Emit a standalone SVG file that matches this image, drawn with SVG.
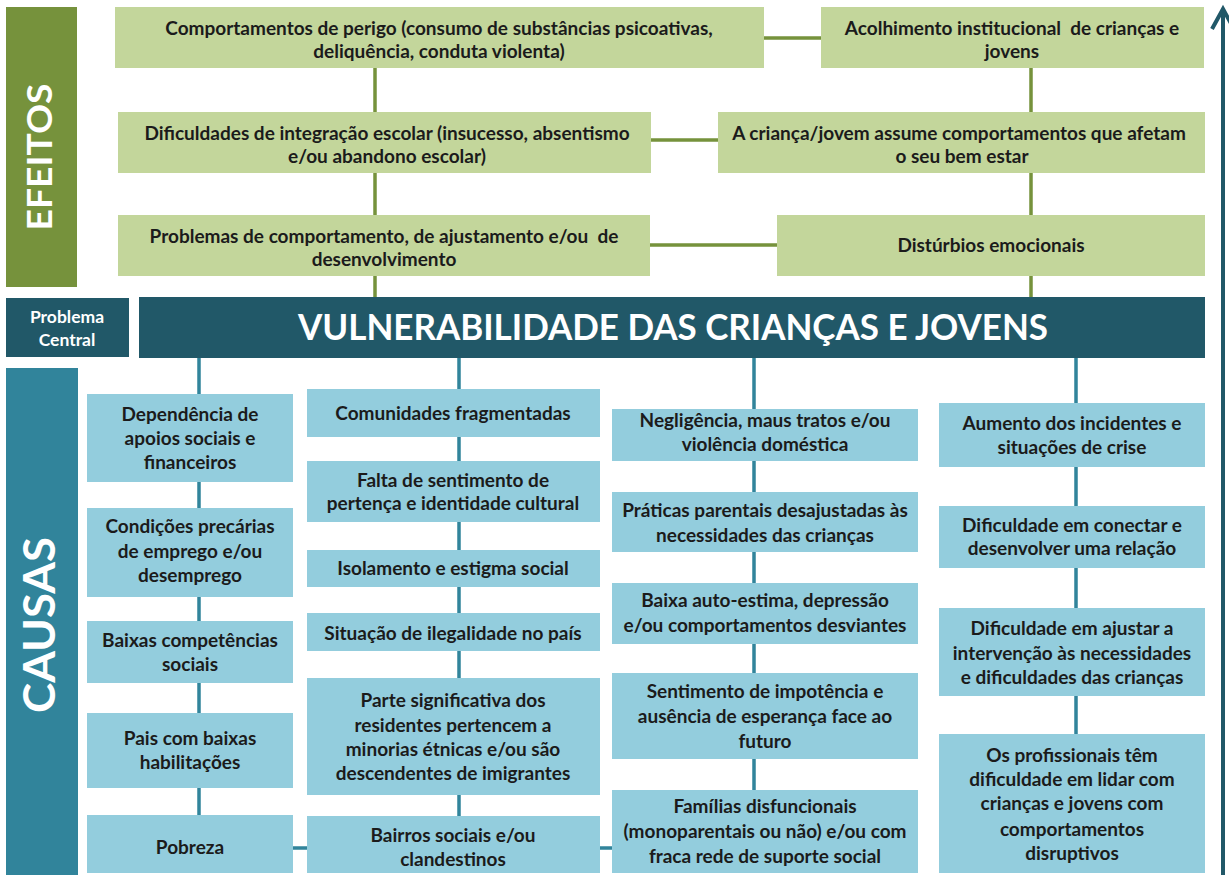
<svg xmlns="http://www.w3.org/2000/svg" width="1229" height="875" viewBox="0 0 1229 875">
<style>
.eff{fill:#C3D69B}
.cau{fill:#93CDDD}
.dark{fill:#215868}
.t{font-family:Lato,"Open Sans","Liberation Sans",sans-serif;font-weight:bold;font-size:19px;fill:#1b1b1b;text-anchor:middle}
.big{font-family:Lato,"Open Sans","Liberation Sans",sans-serif;font-weight:bold;fill:#ffffff;text-anchor:middle}
.gl{stroke:#76923C;stroke-width:3.5;fill:none}
.bl{stroke:#31849B;stroke-width:3.5;fill:none}
</style>
<rect width="1229" height="875" fill="#ffffff"/>

<g id="connectors">
<path class="gl" d="M375,68 V297 M1031,68 V297 M764,38 H821 M651,140 H718 M650,245 H777"/>
<path class="bl" d="M199,358 V848 M459,358 V848 M754,358 V848 M1076,358 V800 M293,848 H612"/>
<path d="M1223,875 V9" stroke="#215868" stroke-width="4" fill="none"/>
<path d="M1212,29 L1223,9 L1234,29" stroke="#215868" stroke-width="4" fill="none" stroke-linejoin="miter"/>
</g>

<g id="efeitos-label">
<rect x="6" y="7" width="71" height="280" fill="#76923C"/>
<text class="big" font-size="35" transform="translate(52,157) rotate(-90)" textLength="147" lengthAdjust="spacingAndGlyphs">EFEITOS</text>
</g>

<g id="e1">
<rect class="eff" x="115" y="7" width="649" height="61"/>
<text class="t"><tspan x="439" y="35">Comportamentos de perigo (consumo de substâncias psicoativas,</tspan><tspan x="439" y="58">deliquência, conduta violenta)</tspan></text>
</g>
<g id="e2">
<rect class="eff" x="821" y="7" width="383" height="61"/>
<text class="t" xml:space="preserve"><tspan x="1012" y="35">Acolhimento institucional  de crianças e</tspan><tspan x="1012" y="58">jovens</tspan></text>
</g>
<g id="e3">
<rect class="eff" x="118" y="112" width="533" height="61"/>
<text class="t"><tspan x="387" y="140">Dificuldades de integração escolar (insucesso, absentismo</tspan><tspan x="387" y="163">e/ou abandono escolar)</tspan></text>
</g>
<g id="e4">
<rect class="eff" x="718" y="112" width="487" height="61"/>
<text class="t"><tspan x="959" y="140">A criança/jovem assume comportamentos que afetam</tspan><tspan x="962" y="163">o seu bem estar</tspan></text>
</g>
<g id="e5">
<rect class="eff" x="118" y="215" width="532" height="61"/>
<text class="t" xml:space="preserve"><tspan x="384" y="243">Problemas de comportamento, de ajustamento e/ou  de</tspan><tspan x="384" y="266">desenvolvimento</tspan></text>
</g>
<g id="e6">
<rect class="eff" x="777" y="215" width="428" height="61"/>
<text class="t" x="991" y="252">Distúrbios emocionais</text>
</g>

<g id="problema-label">
<rect class="dark" x="6" y="298" width="123" height="59"/>
<text class="big" font-size="17.5"><tspan x="67" y="323">Problema</tspan><tspan x="67" y="346">Central</tspan></text>
</g>
<g id="central">
<rect class="dark" x="139" y="297" width="1066" height="61"/>
<text class="big" font-size="36" x="673" y="340" textLength="750" lengthAdjust="spacingAndGlyphs">VULNERABILIDADE DAS CRIANÇAS E JOVENS</text>
</g>

<g id="causas-label">
<rect x="6" y="368" width="72" height="507" fill="#31849B"/>
<text class="big" font-size="44" transform="translate(55,625) rotate(-90)" textLength="176" lengthAdjust="spacingAndGlyphs">CAUSAS</text>
</g>

<g id="c1a"><rect class="cau" x="87" y="394" width="206" height="88"/>
<text class="t"><tspan x="190" y="421">Dependência de</tspan><tspan x="190" y="445">apoios sociais e</tspan><tspan x="190" y="469">financeiros</tspan></text></g>
<g id="c1b"><rect class="cau" x="87" y="508" width="206" height="89"/>
<text class="t"><tspan x="190" y="533">Condições precárias</tspan><tspan x="190" y="558">de emprego e/ou</tspan><tspan x="190" y="582">desemprego</tspan></text></g>
<g id="c1c"><rect class="cau" x="87" y="621" width="206" height="62"/>
<text class="t"><tspan x="190" y="647">Baixas competências</tspan><tspan x="190" y="671">sociais</tspan></text></g>
<g id="c1d"><rect class="cau" x="87" y="713" width="206" height="75"/>
<text class="t"><tspan x="190" y="745">Pais com baixas</tspan><tspan x="190" y="769">habilitações</tspan></text></g>
<g id="c1e"><rect class="cau" x="87" y="815" width="206" height="58"/>
<text class="t" x="190" y="854">Pobreza</text></g>

<g id="c2a"><rect class="cau" x="307" y="389" width="293" height="48"/>
<text class="t" x="453" y="420">Comunidades fragmentadas</text></g>
<g id="c2b"><rect class="cau" x="307" y="461" width="293" height="61"/>
<text class="t"><tspan x="453" y="487">Falta de sentimento de</tspan><tspan x="453" y="510">pertença e identidade cultural</tspan></text></g>
<g id="c2c"><rect class="cau" x="307" y="550" width="293" height="37"/>
<text class="t" x="453" y="575">Isolamento e estigma social</text></g>
<g id="c2d"><rect class="cau" x="307" y="613" width="293" height="38"/>
<text class="t" x="453" y="640">Situação de ilegalidade no país</text></g>
<g id="c2e"><rect class="cau" x="307" y="678" width="293" height="117"/>
<text class="t"><tspan x="453" y="707">Parte significativa dos</tspan><tspan x="453" y="732">residentes pertencem a</tspan><tspan x="453" y="756">minorias étnicas e/ou são</tspan><tspan x="453" y="780">descendentes de imigrantes</tspan></text></g>
<g id="c2f"><rect class="cau" x="307" y="816" width="293" height="57"/>
<text class="t"><tspan x="453" y="842">Bairros sociais e/ou</tspan><tspan x="453" y="866">clandestinos</tspan></text></g>

<g id="c3a"><rect class="cau" x="612" y="409" width="306" height="52"/>
<text class="t"><tspan x="765" y="427">Negligência, maus tratos e/ou</tspan><tspan x="765" y="451">violência doméstica</tspan></text></g>
<g id="c3b"><rect class="cau" x="612" y="492" width="306" height="60"/>
<text class="t"><tspan x="765" y="517">Práticas parentais desajustadas às</tspan><tspan x="765" y="542">necessidades das crianças</tspan></text></g>
<g id="c3c"><rect class="cau" x="612" y="583" width="306" height="61"/>
<text class="t"><tspan x="765" y="607">Baixa auto-estima, depressão</tspan><tspan x="765" y="632">e/ou comportamentos desviantes</tspan></text></g>
<g id="c3d"><rect class="cau" x="612" y="673" width="306" height="86"/>
<text class="t"><tspan x="765" y="698">Sentimento de impotência e</tspan><tspan x="765" y="723">ausência de esperança face ao</tspan><tspan x="765" y="748">futuro</tspan></text></g>
<g id="c3e"><rect class="cau" x="612" y="790" width="306" height="83"/>
<text class="t"><tspan x="765" y="813">Famílias disfuncionais</tspan><tspan x="765" y="838">(monoparentais ou não) e/ou com</tspan><tspan x="765" y="863">fraca rede de suporte social</tspan></text></g>

<g id="c4a"><rect class="cau" x="939" y="403" width="266" height="64"/>
<text class="t"><tspan x="1072" y="430">Aumento dos incidentes e</tspan><tspan x="1072" y="454">situações de crise</tspan></text></g>
<g id="c4b"><rect class="cau" x="939" y="506" width="266" height="62"/>
<text class="t"><tspan x="1072" y="532">Dificuldade em conectar e</tspan><tspan x="1072" y="555">desenvolver uma relação</tspan></text></g>
<g id="c4c"><rect class="cau" x="939" y="608" width="266" height="88"/>
<text class="t"><tspan x="1072" y="635">Dificuldade em ajustar a</tspan><tspan x="1072" y="660">intervenção às necessidades</tspan><tspan x="1072" y="684">e dificuldades das crianças</tspan></text></g>
<g id="c4d"><rect class="cau" x="939" y="734" width="266" height="139"/>
<text class="t"><tspan x="1072" y="762">Os profissionais têm</tspan><tspan x="1072" y="786">dificuldade em lidar com</tspan><tspan x="1072" y="810">crianças e jovens com</tspan><tspan x="1072" y="836">comportamentos</tspan><tspan x="1072" y="860">disruptivos</tspan></text></g>
</svg>
